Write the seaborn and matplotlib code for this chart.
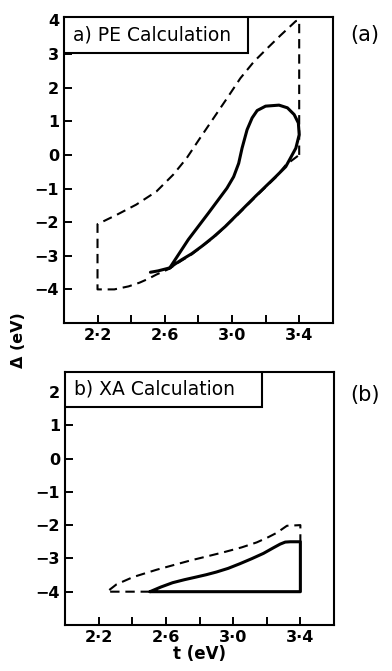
import numpy as np
import pandas as pd
import matplotlib
matplotlib.use("Agg")
import matplotlib.pyplot as plt
from matplotlib.patches import Rectangle
from matplotlib.ticker import FixedLocator
import seaborn as sns

# panel a) PE calculation - dashed boundary (t, Delta)
pe_dash_t = [3.40, 3.40, 3.38, 3.29, 3.21, 3.13, 3.05, 2.97, 2.89, 2.81, 2.73, 2.65, 2.55, 2.43, 2.315, 2.20,
             2.20, 2.30, 2.385, 2.45, 2.50, 2.55, 2.63, 2.66, 2.76, 2.89, 3.02, 3.14, 3.26, 3.32, 3.40]
pe_dash_d = [0.00, 4.00, 3.98, 3.56, 3.17, 2.77, 2.28, 1.68, 1.09, 0.50, -0.10, -0.59, -1.09, -1.48, -1.78, -2.06,
             -4.00, -4.00, -3.91, -3.80, -3.69, -3.56, -3.38, -3.27, -2.96, -2.46, -1.85, -1.25, -0.67, -0.30, 0.00]

# panel a) PE calculation - solid loop
pe_solid_t = [2.515, 2.56, 2.63, 2.74, 2.86, 2.97, 3.01, 3.04, 3.06, 3.09, 3.12, 3.15, 3.20, 3.28, 3.33,
              3.37, 3.395, 3.40, 3.38, 3.32, 3.26, 3.20, 3.14, 3.08, 3.02, 2.96, 2.89, 2.82, 2.76,
              2.70, 2.66, 2.63]
pe_solid_d = [-3.49, -3.45, -3.36, -2.52, -1.73, -0.99, -0.65, -0.25, 0.20, 0.75, 1.10, 1.32, 1.45, 1.48, 1.40,
              1.20, 0.95, 0.60, 0.20, -0.35, -0.65, -0.94, -1.23, -1.53, -1.83, -2.13, -2.44, -2.72, -2.94,
              -3.12, -3.25, -3.36]

# panel b) XA calculation - dashed boundary
xa_dash_t = [2.505, 2.25, 2.306, 2.405, 2.545, 2.74, 2.94, 3.05, 3.14, 3.21, 3.26, 3.32, 3.40, 3.40]
xa_dash_d = [-4.00, -4.00, -3.78, -3.56, -3.34, -3.07, -2.82, -2.67, -2.52, -2.36, -2.23, -2.02, -2.00, -2.50]

# panel b) XA calculation - solid region
xa_solid_t = [2.505, 2.57, 2.64, 2.71, 2.78, 2.84, 2.90, 2.97, 3.04, 3.11, 3.18, 3.24, 3.28, 3.31, 3.34,
              3.40, 3.40, 2.505]
xa_solid_d = [-4.00, -3.86, -3.73, -3.64, -3.56, -3.49, -3.41, -3.30, -3.16, -3.01, -2.85, -2.68, -2.57, -2.51,
              -2.50, -2.50, -4.00, -4.00]

x_major = [2.2, 2.6, 3.0, 3.4]
x_minor = [2.4, 2.8, 3.2]
x_labels = ["2·2", "2·6", "3·0", "3·4"]

sns.set_style("ticks")
plt.rcParams["font.family"] = ["DejaVu Sans"]
plt.rcParams["font.weight"] = "bold"
plt.rcParams["text.color"] = "black"
plt.rcParams["xtick.color"] = "black"
plt.rcParams["ytick.color"] = "black"
plt.rcParams["axes.edgecolor"] = "black"
plt.rcParams["axes.labelcolor"] = "black"

fig = plt.figure(figsize=(3.92, 6.71), dpi=100)
ax_a = fig.add_axes([0.163, 0.5186, 0.686, 0.456])
ax_b = fig.add_axes([0.166, 0.0686, 0.686, 0.377])


def draw_panel(ax, dt, dd, st, sd, ylim, yticks, label, box_w, box_h):
    sns.lineplot(x=dt, y=dd, sort=False, estimator=None, ax=ax, color="black",
                 linewidth=1.5, linestyle=(0, (4.5, 2.8)))
    sns.lineplot(x=st, y=sd, sort=False, estimator=None, ax=ax, color="black",
                 linewidth=2.2, solid_joinstyle="round", solid_capstyle="round")
    ax.set_xlim(2.0, 3.6)
    ax.set_ylim(*ylim)
    ax.xaxis.set_major_locator(FixedLocator(x_major))
    ax.xaxis.set_minor_locator(FixedLocator(x_minor))
    ax.set_xticklabels(x_labels)
    ax.set_yticks(yticks)
    ax.set_yticklabels([str(v).replace("-", "\u2212") for v in yticks])
    ax.tick_params(which="both", direction="in", length=6, width=1.4,
                   labelsize=11.5, top=False, right=False)
    for s in ax.spines.values():
        s.set_visible(True)
        s.set_linewidth(1.5)
    ax.add_patch(Rectangle((0, 1 - box_h), box_w, box_h, transform=ax.transAxes,
                           facecolor="white", edgecolor="black", linewidth=1.5, zorder=5))
    ax.text(0.035, 1 - box_h / 2, label, transform=ax.transAxes, fontsize=13.5,
            fontweight="normal", va="center", ha="left", zorder=6)
    ax.set_xlabel("")
    ax.set_ylabel("")


draw_panel(ax_a, pe_dash_t, pe_dash_d, pe_solid_t, pe_solid_d, (-5.0, 4.1),
           [-4, -3, -2, -1, 0, 1, 2, 3, 4], "a) PE Calculation", 0.684, 0.118)
draw_panel(ax_b, xa_dash_t, xa_dash_d, xa_solid_t, xa_solid_d, (-5.0, 2.6),
           [-4, -3, -2, -1, 0, 1, 2], "b) XA Calculation", 0.732, 0.138)

ax_b.set_xlabel("t (eV)", fontsize=12, fontweight="bold", labelpad=0)
fig.text(0.046, 0.493, "Δ (eV)", rotation=90, fontsize=11.5, fontweight="bold",
         ha="center", va="center")
fig.text(0.93, 0.948, "(a)", fontsize=15, fontweight="normal", ha="center", va="center")
fig.text(0.93, 0.411, "(b)", fontsize=15, fontweight="normal", ha="center", va="center")

fig.savefig("out.png", dpi=100)
